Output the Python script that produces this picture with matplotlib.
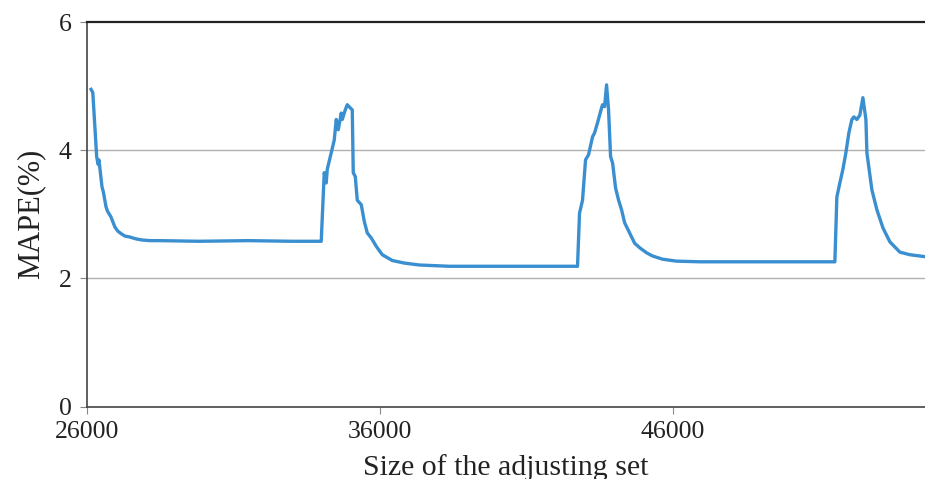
import numpy as np
import matplotlib.pyplot as plt

# adjusting-set size vs MAPE
set_size = [26140, 26200, 26332, 26380, 26410, 26513, 26560, 26650, 26700, 26820,
            26870, 26957, 27050, 27162, 27300, 27436, 27650, 27880, 28150, 28462,
            29830, 31500, 33000, 34000,
            34103, 34171, 34205, 34342, 34445, 34513, 34582, 34684, 34718, 34821,
            34889, 34992, 35060, 35094, 35163, 35231, 35368, 35470, 35573, 35710,
            35881, 36086, 36428, 36838, 37350, 38376, 40000, 41500, 42752,
            42821, 42923, 43026, 43129, 43265, 43334, 43436, 43573, 43607, 43676,
            43744, 43812, 43881, 43950, 44052, 44155, 44257, 44360, 44531, 44702,
            44873, 45112, 45317, 45659, 46138, 46924, 48500, 50000, 51540,
            51608, 51711, 51813, 51916, 52018, 52121, 52190, 52292, 52395, 52497,
            52600, 52634, 52805, 52976, 53181, 53420, 53762, 54105, 54618]
mape = [4.95, 4.90, 3.90, 3.78, 3.85, 3.43, 3.35, 3.12, 3.05, 2.96,
        2.90, 2.80, 2.74, 2.70, 2.66, 2.65, 2.62, 2.60, 2.59, 2.59,
        2.58, 2.59, 2.58, 2.58,
        3.65, 3.49, 3.70, 3.96, 4.16, 4.48, 4.32, 4.58, 4.48, 4.63,
        4.71, 4.66, 4.63, 3.65, 3.59, 3.22, 3.15, 2.89, 2.71, 2.63,
        2.50, 2.37, 2.28, 2.24, 2.21, 2.19, 2.19, 2.19, 2.19,
        3.02, 3.22, 3.85, 3.93, 4.21, 4.27, 4.43, 4.66, 4.71, 4.68,
        5.02, 4.63, 3.90, 3.80, 3.41, 3.22, 3.07, 2.87, 2.71, 2.55,
        2.48, 2.40, 2.35, 2.30, 2.27, 2.26, 2.26, 2.26, 2.26,
        3.27, 3.49, 3.70, 3.96, 4.27, 4.48, 4.52, 4.48, 4.55, 4.82,
        4.48, 3.96, 3.38, 3.07, 2.79, 2.57, 2.41, 2.37, 2.34]

x_ticks = [26000, 36000, 46000]
y_ticks = [0, 2, 4, 6]

plt.rcParams['font.family'] = ['Liberation Serif', 'DejaVu Serif']

fig = plt.figure(figsize=(9.25, 4.79), dpi=100)
ax = fig.add_axes([0.094, 0.151, 0.906, 0.803])

ax.plot(set_size, mape, color='#3a8fd0', linewidth=2.4, solid_joinstyle='round')

ax.set_xlim(26000, 54618)
ax.set_ylim(0, 6)
ax.set_xticks(x_ticks)
ax.set_yticks(y_ticks)
ax.tick_params(axis='both', labelsize=18.5, colors='#222222')
ax.tick_params(axis='y', length=5, color='#888888', pad=6)
ax.tick_params(axis='x', length=5, color='#888888', pad=5)

for y in [2, 4]:
    ax.axhline(y, color='#b0b0b0', linewidth=1.0, zorder=0)

ax.spines['right'].set_visible(False)
ax.spines['top'].set_color('#222222')
ax.spines['top'].set_linewidth(1.6)
ax.spines['left'].set_color('#444444')
ax.spines['left'].set_linewidth(1.2)
ax.spines['bottom'].set_color('#444444')
ax.spines['bottom'].set_linewidth(1.2)

ax.set_xlabel('Size of the adjusting set', fontsize=21.5, color='#222222', labelpad=8)
ax.set_ylabel('MAPE(%)', fontsize=22, color='#222222', labelpad=10)

fig.savefig('out.png', dpi=100)
